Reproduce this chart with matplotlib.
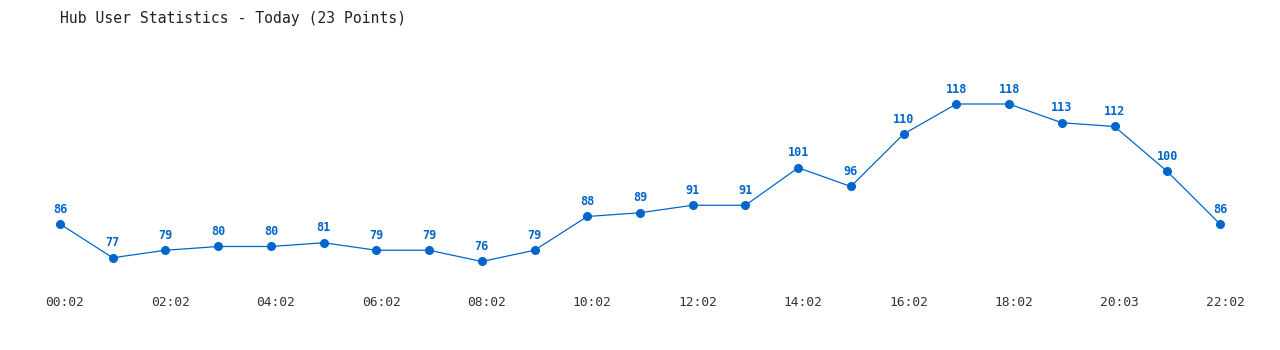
import matplotlib
matplotlib.use("Agg")
import matplotlib.pyplot as plt
import matplotlib.transforms as mtransforms

# Hub user counts, one point per hour
times = ["00:02", "01:02", "02:02", "03:02", "04:02", "05:02", "06:02", "07:02",
         "08:02", "09:02", "10:02", "11:02", "12:02", "13:02", "14:02", "15:02",
         "16:02", "17:02", "18:02", "19:02", "20:03", "21:02", "22:02"]
users = [86, 77, 79, 80, 80, 81, 79, 79, 76, 79, 88, 89, 91, 91, 101, 96,
         110, 118, 118, 113, 112, 100, 86]

blue = "#0066cc"
plt.rcParams['font.family'] = ['DejaVu Sans Mono']

fig = plt.figure(figsize=(12.8, 3.5), dpi=100)
# axes spans pixel x 60..1220, y 40..290 (from top)
ax = fig.add_axes([60 / 1280, 60 / 350, 1160 / 1280, 250 / 350])

x = list(range(len(users)))
ax.plot(x, users, color=blue, lw=0.9, marker='o', ms=5.5, mfc=blue, mec=blue,
        clip_on=False)
for i, v in zip(x, users):
    ax.annotate(str(v), (i, v), xytext=(0, 6), textcoords='offset points',
                ha='center', va='bottom', color=blue, fontsize=8.5, fontweight='bold')

ax.set_xlim(0, len(users) - 1)
ax.set_ylim(86 - 66 / 3.75, 118 + 64 / 3.75)
ax.set_xticks(x[::2])
ax.set_xticklabels(times[::2], fontsize=9.3, color='#333333')
ax.tick_params(axis='x', length=0, pad=4)
shift = mtransforms.ScaledTranslation(5 / 100, 0, fig.dpi_scale_trans)
for lbl in ax.get_xticklabels():
    lbl.set_transform(lbl.get_transform() + shift)
ax.set_yticks([])
for s in ax.spines.values():
    s.set_visible(False)

fig.text(60 / 1280, 1 - 18 / 350, "Hub User Statistics - Today (23 Points)",
         ha='left', va='center', fontsize=10.6, color='#222222')

fig.savefig("out.png", dpi=100)
